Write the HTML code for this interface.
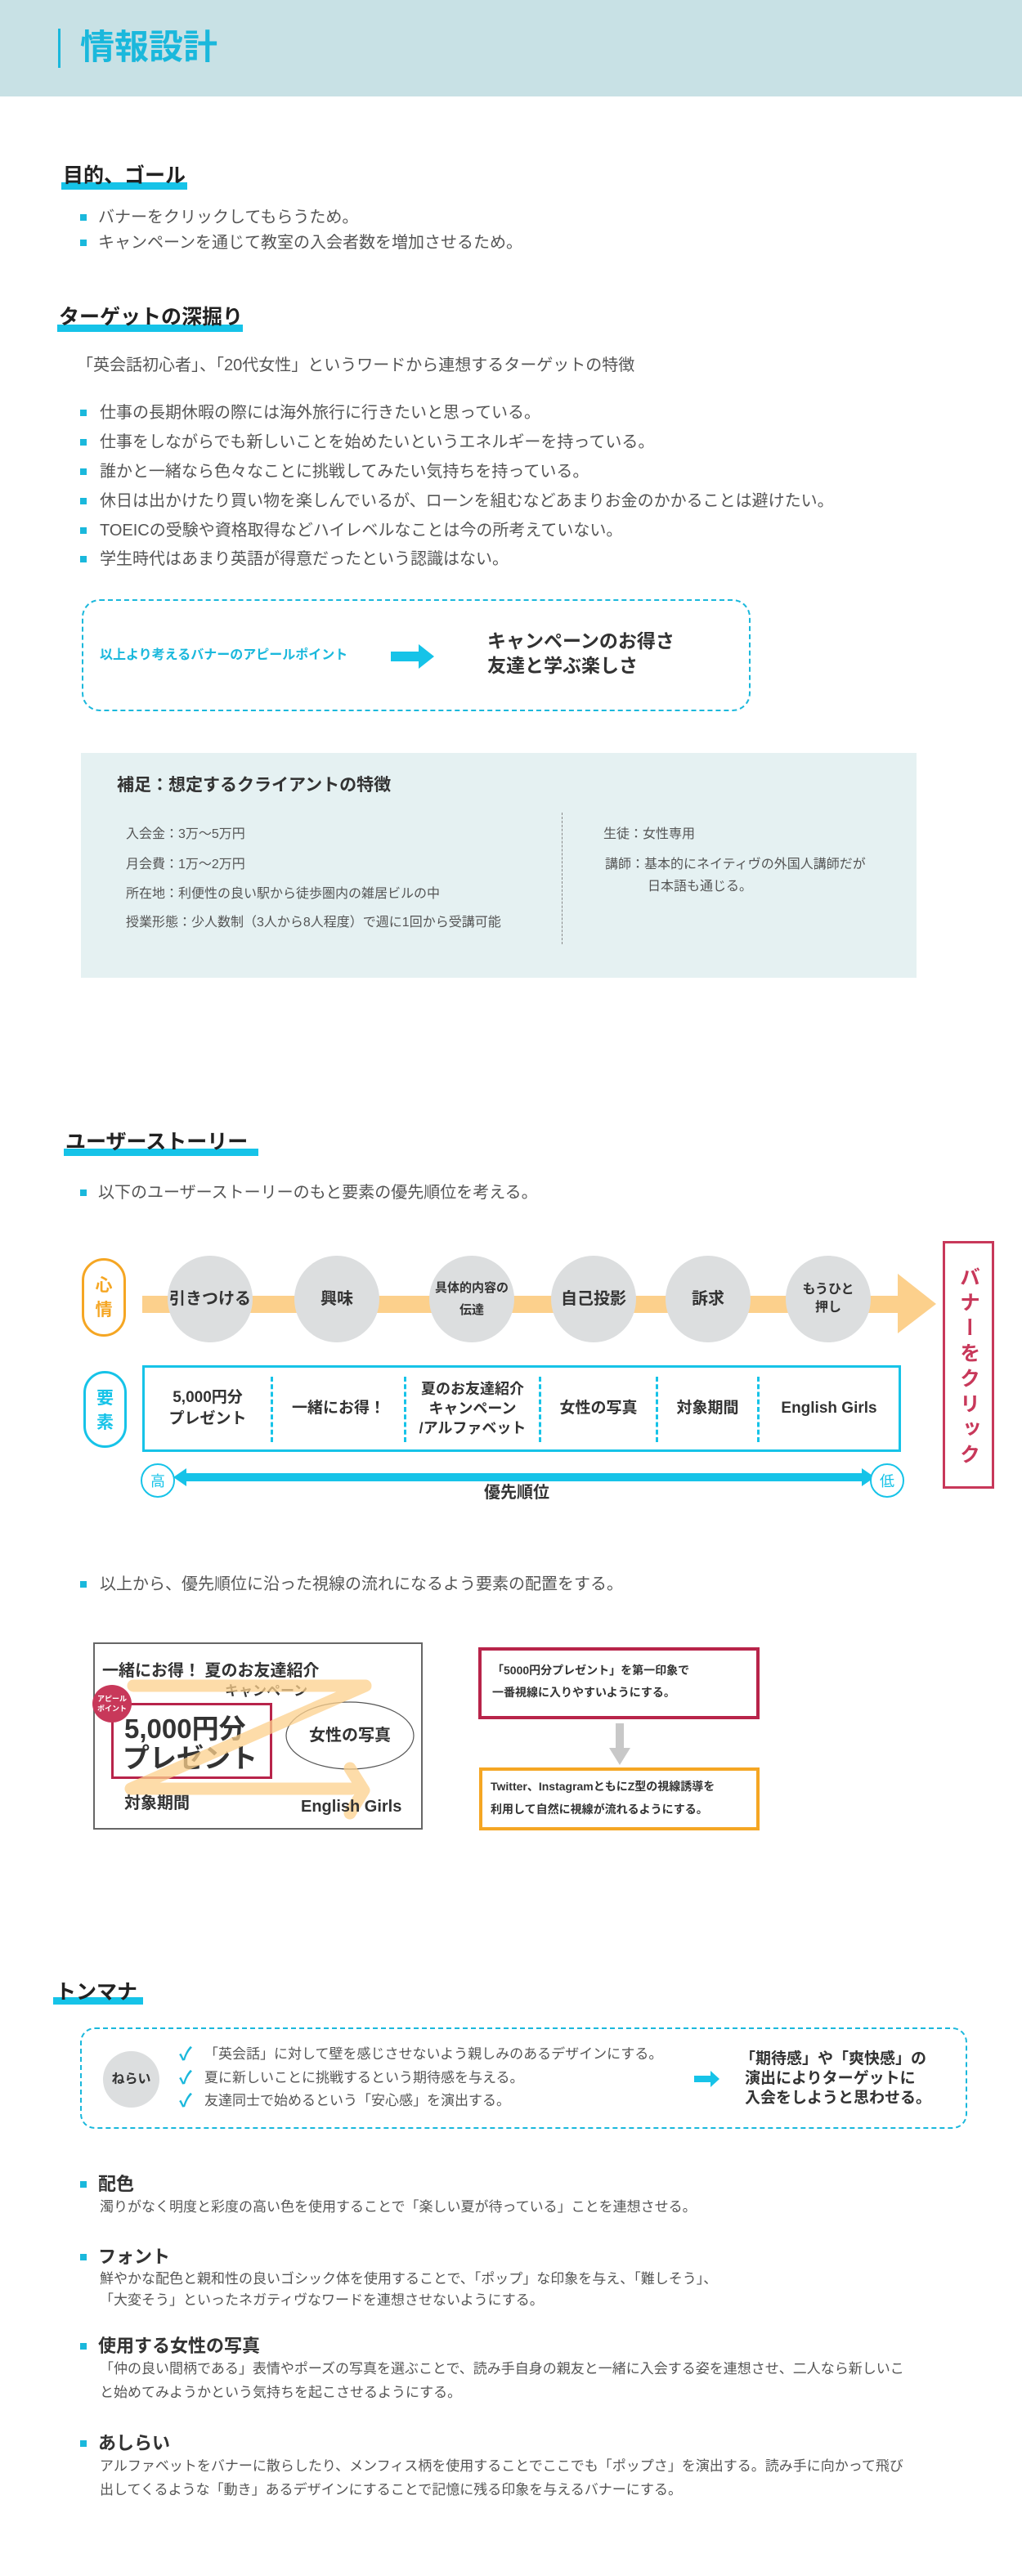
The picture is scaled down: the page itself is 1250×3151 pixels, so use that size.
<!DOCTYPE html>
<html><head><meta charset="utf-8"><style>
*{margin:0;padding:0;box-sizing:border-box}
body{width:1250px;height:3151px;position:relative;background:#fff;font-family:"Liberation Sans","Noto Sans CJK JP",sans-serif;color:#555;overflow:hidden}
.a{position:absolute;white-space:nowrap;line-height:1}
.b{font-weight:bold;color:#333}
.sq{position:absolute;width:8px;height:8px;background:#1ab8dc}
.hb{position:absolute;background:#16c3e8;height:9px}
.h2{position:absolute;font-weight:bold;color:#222;font-size:25px;line-height:1;white-space:nowrap}
.circ{position:absolute;width:104px;height:106px;border-radius:50%;background:#dcdedf;display:flex;align-items:center;justify-content:center;text-align:center;font-weight:bold;color:#333;font-size:20px;line-height:1.4}
.cell{position:absolute;top:1670px;height:106px;display:flex;align-items:center;justify-content:center;text-align:center;font-weight:bold;color:#333;font-size:19px;line-height:1.35}
.vd{position:absolute;top:1684px;height:80px;border-left:3px dashed #16c3e8}
</style></head><body>

<div style="position:absolute;left:0;top:0;width:1250px;height:118px;background:#c8e1e5"></div>
<div style="position:absolute;left:71px;top:35px;width:3px;height:48px;background:#1ab8dc"></div>
<div class="a" style="left:98px;top:37px;font-size:42px;font-weight:bold;color:#1ab8dc">情報設計</div>

<div class="hb" style="left:75px;top:223px;width:154px"></div>
<div class="h2" style="left:77px;top:203px">目的、ゴール</div>
<div class="sq" style="left:98px;top:262px"></div><div class="a" style="left:120px;top:256px;font-size:20px">バナーをクリックしてもらうため。</div>
<div class="sq" style="left:98px;top:293px"></div><div class="a" style="left:120px;top:287px;font-size:20px">キャンペーンを通じて教室の入会者数を増加させるため。</div>

<div class="hb" style="left:70px;top:397px;width:227px"></div>
<div class="h2" style="left:72px;top:376px">ターゲットの深掘り</div>
<div class="a" style="left:94px;top:437px;font-size:20px">「英会話初心者」、「20代女性」というワードから連想するターゲットの特徴</div>
<div class="sq" style="left:98px;top:501px"></div><div class="a" style="left:122px;top:495px;font-size:20px">仕事の長期休暇の際には海外旅行に行きたいと思っている。</div>
<div class="sq" style="left:98px;top:537px"></div><div class="a" style="left:122px;top:531px;font-size:20px">仕事をしながらでも新しいことを始めたいというエネルギーを持っている。</div>
<div class="sq" style="left:98px;top:573px"></div><div class="a" style="left:122px;top:567px;font-size:20px">誰かと一緒なら色々なことに挑戦してみたい気持ちを持っている。</div>
<div class="sq" style="left:98px;top:609px"></div><div class="a" style="left:122px;top:603px;font-size:20px">休日は出かけたり買い物を楽しんでいるが、ローンを組むなどあまりお金のかかることは避けたい。</div>
<div class="sq" style="left:98px;top:645px"></div><div class="a" style="left:122px;top:639px;font-size:20px">TOEICの受験や資格取得などハイレベルなことは今の所考えていない。</div>
<div class="sq" style="left:98px;top:680px"></div><div class="a" style="left:122px;top:674px;font-size:20px">学生時代はあまり英語が得意だったという認識はない。</div>

<div style="position:absolute;left:100px;top:733px;width:818px;height:137px;border:2px dashed #1ab8dc;border-radius:22px"></div>
<div class="a" style="left:122px;top:794px;font-size:16px;font-weight:bold;color:#1ab8dc">以上より考えるバナーのアピールポイント</div>
<svg style="position:absolute;left:478px;top:788px" width="54" height="30"><path d="M0 9 H34 V0 L53 15 L34 30 V21 H0Z" fill="#16c3e8"/></svg>
<div class="a b" style="left:596px;top:773px;font-size:23px">キャンペーンのお得さ</div>
<div class="a b" style="left:596px;top:803px;font-size:23px">友達と学ぶ楽しさ</div>

<div style="position:absolute;left:99px;top:921px;width:1022px;height:275px;background:#e5f1f2"></div>
<div class="a b" style="left:143px;top:950px;font-size:21px">補足：想定するクライアントの特徴</div>
<div class="a" style="left:154px;top:1013px;font-size:16px">入会金：3万〜5万円</div>
<div class="a" style="left:154px;top:1050px;font-size:16px">月会費：1万〜2万円</div>
<div class="a" style="left:154px;top:1086px;font-size:16px">所在地：利便性の良い駅から徒歩圏内の雑居ビルの中</div>
<div class="a" style="left:154px;top:1121px;font-size:16px">授業形態：少人数制（3人から8人程度）で週に1回から受講可能</div>
<div style="position:absolute;left:687px;top:994px;height:161px;border-left:1px dashed #888"></div>
<div class="a" style="left:738px;top:1013px;font-size:16px">生徒：女性専用</div>
<div class="a" style="left:740px;top:1050px;font-size:16px">講師：基本的にネイティヴの外国人講師だが</div>
<div class="a" style="left:792px;top:1077px;font-size:16px">日本語も通じる。</div>

<div class="hb" style="left:78px;top:1405px;width:238px"></div>
<div class="h2" style="left:80px;top:1385px">ユーザーストーリー</div>
<div class="sq" style="left:98px;top:1455px"></div><div class="a" style="left:120px;top:1449px;font-size:20px">以下のユーザーストーリーのもと要素の優先順位を考える。</div>

<div style="position:absolute;left:100px;top:1539px;width:54px;height:96px;border:3px solid #f5a623;border-radius:27px;color:#f5a623;font-size:21px;font-weight:bold;text-align:center;line-height:30px;padding-top:16px">心<br>情</div>
<div style="position:absolute;left:174px;top:1585px;width:926px;height:21px;background:#fcd08c"></div>
<svg style="position:absolute;left:1098px;top:1558px" width="48" height="74"><path d="M0 0 L47 37 L0 73Z" fill="#fcd08c"/></svg>
<div class="circ" style="left:205px;top:1536px">引きつける</div>
<div class="circ" style="left:360px;top:1536px">興味</div>
<div class="circ" style="left:525px;top:1536px;font-size:15px;line-height:1.8">具体的内容の<br>伝達</div>
<div class="circ" style="left:674px;top:1536px">自己投影</div>
<div class="circ" style="left:814px;top:1536px">訴求</div>
<div class="circ" style="left:961px;top:1536px;font-size:16px">もうひと<br>押し</div>

<div style="position:absolute;left:1153px;top:1518px;width:63px;height:303px;border:3px solid #c8385a"></div>
<div style="position:absolute;left:1153px;top:1530px;width:63px;text-align:center;color:#c8385a;font-weight:bold;font-size:25px;letter-spacing:6px;writing-mode:vertical-rl;height:285px;display:flex;justify-content:center;align-items:center">バナーをクリック</div>

<div style="position:absolute;left:102px;top:1677px;width:53px;height:94px;border:3px solid #16c3e8;border-radius:27px;color:#16c3e8;font-size:21px;font-weight:bold;text-align:center;line-height:30px;padding-top:16px">要<br>素</div>
<div style="position:absolute;left:174px;top:1670px;width:928px;height:106px;border:3px solid #16c3e8"></div>
<div class="vd" style="left:331px"></div><div class="vd" style="left:494px"></div><div class="vd" style="left:659px"></div><div class="vd" style="left:802px"></div><div class="vd" style="left:926px"></div>
<div class="cell" style="left:177px;width:154px">5,000円分<br>プレゼント</div>
<div class="cell" style="left:334px;width:160px">一緒にお得！</div>
<div class="cell" style="left:497px;width:162px;font-size:18px">夏のお友達紹介<br>キャンペーン<br>/アルファベット</div>
<div class="cell" style="left:662px;width:140px">女性の写真</div>
<div class="cell" style="left:805px;width:121px">対象期間</div>
<div class="cell" style="left:929px;width:170px;font-weight:bold">English Girls</div>

<svg style="position:absolute;left:170px;top:1786px" width="940" height="52">
<path d="M42 21 L58 10 V16 H884 V10 L900 21 L884 32 V26 H58 V32Z" fill="#16c3e8"/>
<circle cx="23" cy="25" r="20" fill="#fff" stroke="#16c3e8" stroke-width="2"/>
<circle cx="915" cy="25" r="20" fill="#fff" stroke="#16c3e8" stroke-width="2"/>
<text x="23" y="32" text-anchor="middle" font-size="18" fill="#16c3e8" font-family="Liberation Sans,Noto Sans CJK JP,sans-serif">高</text>
<text x="915" y="32" text-anchor="middle" font-size="18" fill="#16c3e8" font-family="Liberation Sans,Noto Sans CJK JP,sans-serif">低</text>
</svg>
<div class="a b" style="left:592px;top:1816px;font-size:20px">優先順位</div>

<div class="sq" style="left:98px;top:1934px"></div><div class="a" style="left:122px;top:1928px;font-size:20px">以上から、優先順位に沿った視線の流れになるよう要素の配置をする。</div>

<div style="position:absolute;left:114px;top:2009px;width:403px;height:229px;border:2px solid #666"></div>
<div class="a b" style="left:125px;top:2034px;font-size:20px">一緒にお得！ 夏のお友達紹介</div>
<div class="a b" style="left:275px;top:2060px;font-size:17px">キャンペーン</div>
<svg style="position:absolute;left:340px;top:2078px" width="175" height="90"><ellipse cx="88" cy="45" rx="78" ry="41" fill="none" stroke="#555" stroke-width="1.2"/></svg>
<div class="a b" style="left:378px;top:2113px;font-size:20px">女性の写真</div>
<div style="position:absolute;left:136px;top:2083px;width:197px;height:93px;border:3px solid #b8244a"></div>
<div class="a b" style="left:152px;top:2098px;font-size:33px">5,000円分</div>
<div class="a b" style="left:150px;top:2134px;font-size:33px">プレゼント</div>
<div style="position:absolute;left:113px;top:2061px;width:48px;height:46px;border-radius:50%;background:#c8385a;color:#fff;font-size:9px;font-weight:bold;text-align:center;line-height:12px;padding-top:11px">アピール<br>ポイント</div>
<svg style="position:absolute;left:0;top:0;pointer-events:none" width="1250" height="2300"><path d="M163 2062 H447 L160 2188 H430 M428 2163 L445 2190 L428 2218" fill="none" stroke="#fcd08c" stroke-opacity="0.75" stroke-width="15" stroke-linecap="round" stroke-linejoin="round"/></svg>
<div class="a b" style="left:152px;top:2196px;font-size:20px">対象期間</div>
<div class="a b" style="left:368px;top:2200px;font-size:20px">English Girls</div>

<div style="position:absolute;left:585px;top:2015px;width:344px;height:88px;border:4px solid #b8244a"></div>
<div class="a b" style="left:602px;top:2036px;font-size:14px">「5000円分プレゼント」を第一印象で</div>
<div class="a b" style="left:602px;top:2063px;font-size:14px">一番視線に入りやすいようにする。</div>
<svg style="position:absolute;left:744px;top:2108px" width="28" height="52"><path d="M9 0 H19 V30 H27 L14 51 L1 30 H9Z" fill="#c8c8c8"/></svg>
<div style="position:absolute;left:586px;top:2162px;width:343px;height:77px;border:4px solid #f5a623"></div>
<div class="a b" style="left:600px;top:2178px;font-size:14px">Twitter、InstagramともにZ型の視線誘導を</div>
<div class="a b" style="left:600px;top:2206px;font-size:14px">利用して自然に視線が流れるようにする。</div>

<div class="hb" style="left:65px;top:2443px;width:110px"></div>
<div class="h2" style="left:68px;top:2425px">トンマナ</div>
<div style="position:absolute;left:98px;top:2480px;width:1085px;height:124px;border:2px dashed #1ab8dc;border-radius:18px"></div>
<div style="position:absolute;left:126px;top:2509px;width:69px;height:69px;border-radius:50%;background:#dcdedf;color:#333;font-weight:bold;font-size:16px;line-height:69px;text-align:center">ねらい</div>
<div class="a" style="left:219px;top:2502px;font-size:22px;font-weight:bold;color:#1ab8dc">✓</div>
<div class="a" style="left:219px;top:2531px;font-size:22px;font-weight:bold;color:#1ab8dc">✓</div>
<div class="a" style="left:219px;top:2559px;font-size:22px;font-weight:bold;color:#1ab8dc">✓</div>
<div class="a" style="left:250px;top:2504px;font-size:17px">「英会話」に対して壁を感じさせないよう親しみのあるデザインにする。</div>
<div class="a" style="left:250px;top:2533px;font-size:17px">夏に新しいことに挑戦するという期待感を与える。</div>
<div class="a" style="left:250px;top:2561px;font-size:17px">友達同士で始めるという「安心感」を演出する。</div>
<svg style="position:absolute;left:849px;top:2533px" width="32" height="20"><path d="M0 6 H20 V0 L31 10 L20 20 V14 H0Z" fill="#16c3e8"/></svg>
<div class="a b" style="left:905px;top:2509px;font-size:19px">「期待感」や「爽快感」の</div>
<div class="a b" style="left:911px;top:2533px;font-size:19px">演出によりターゲットに</div>
<div class="a b" style="left:911px;top:2557px;font-size:19px">入会をしようと思わせる。</div>

<div class="sq" style="left:98px;top:2668px"></div><div class="a b" style="left:120px;top:2661px;font-size:22px">配色</div>
<div class="a" style="left:122px;top:2691px;font-size:17px">濁りがなく明度と彩度の高い色を使用することで「楽しい夏が待っている」ことを連想させる。</div>
<div class="sq" style="left:98px;top:2757px"></div><div class="a b" style="left:120px;top:2750px;font-size:22px">フォント</div>
<div class="a" style="left:122px;top:2779px;font-size:17px">鮮やかな配色と親和性の良いゴシック体を使用することで、「ポップ」な印象を与え、「難しそう」、</div>
<div class="a" style="left:122px;top:2805px;font-size:17px">「大変そう」といったネガティヴなワードを連想させないようにする。</div>
<div class="sq" style="left:98px;top:2866px"></div><div class="a b" style="left:120px;top:2859px;font-size:22px">使用する女性の写真</div>
<div class="a" style="left:122px;top:2889px;font-size:17px">「仲の良い間柄である」表情やポーズの写真を選ぶことで、読み手自身の親友と一緒に入会する姿を連想させ、二人なら新しいこ</div>
<div class="a" style="left:122px;top:2918px;font-size:17px">と始めてみようかという気持ちを起こさせるようにする。</div>
<div class="sq" style="left:98px;top:2985px"></div><div class="a b" style="left:120px;top:2978px;font-size:22px">あしらい</div>
<div class="a" style="left:122px;top:3008px;font-size:17px">アルファベットをバナーに散らしたり、メンフィス柄を使用することでここでも「ポップさ」を演出する。読み手に向かって飛び</div>
<div class="a" style="left:122px;top:3037px;font-size:17px">出してくるような「動き」あるデザインにすることで記憶に残る印象を与えるバナーにする。</div>
</body></html>
